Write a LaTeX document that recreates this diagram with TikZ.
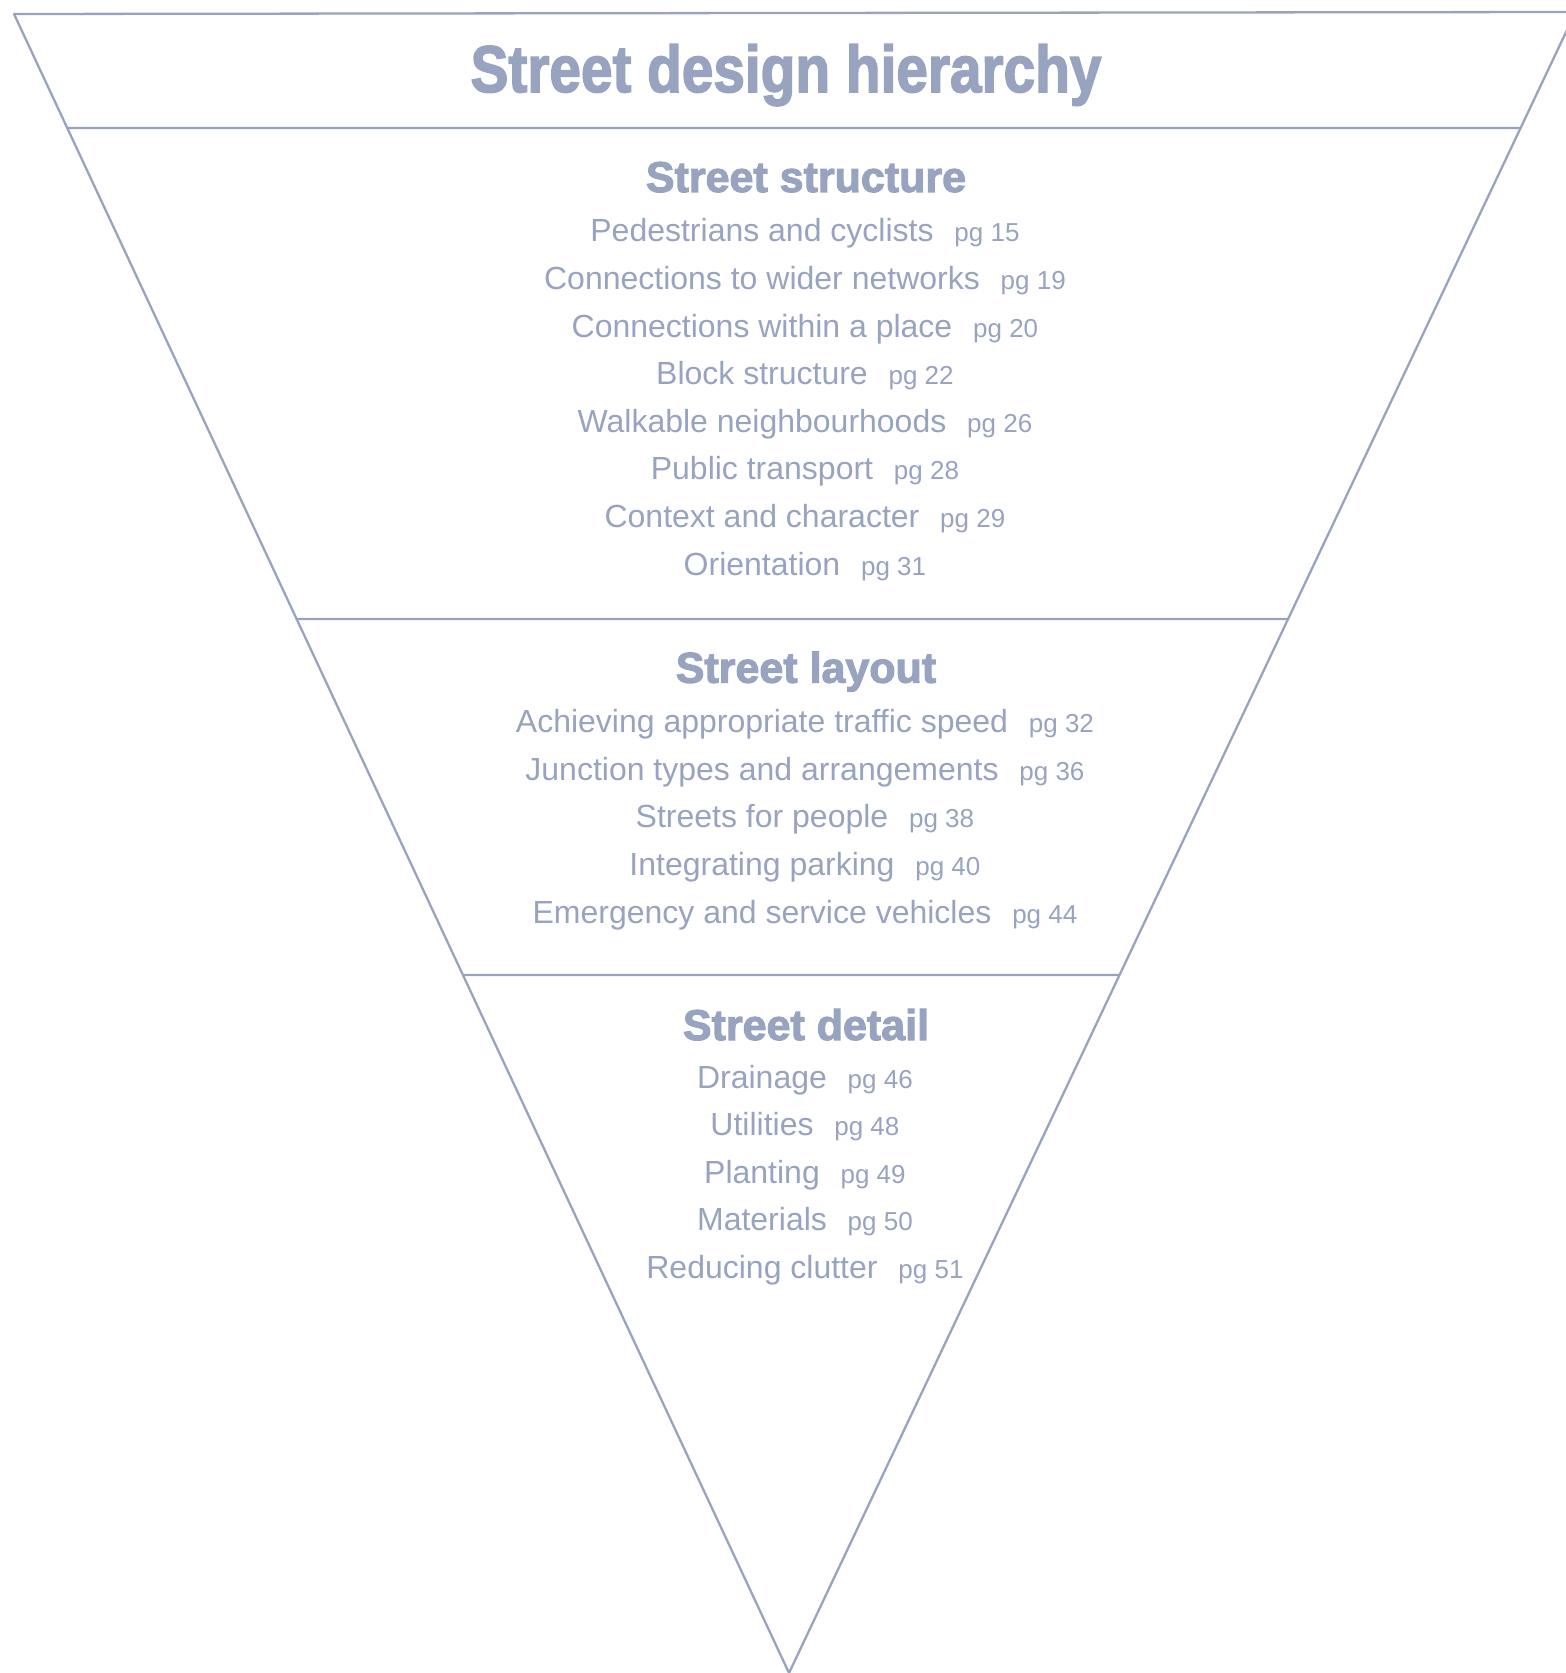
\documentclass[tikz,border=0pt]{standalone}
\usepackage{fontspec}
\setmainfont{Liberation Sans}
\newfontfamily\heavyfont[FakeBold=2.5]{Liberation Sans Bold}
\usetikzlibrary{positioning}
\definecolor{slate}{RGB}{151,163,191}

\begin{document}
\begin{tikzpicture}
  [x=0.5pt, y=-0.5pt,
   frame/.style={draw=slate, line width=1.15pt},
   every node/.style={text=slate, inner sep=0pt},
   title/.style={font=\heavyfont\fontsize{33}{40}\selectfont, anchor=base},
   heading/.style={font=\heavyfont\fontsize{21.5}{26}\selectfont, anchor=base},
   item/.style={font=\fontsize{16}{19}\selectfont, anchor=base},
   pgno/.style={font=\fontsize{13}{16}\selectfont}
  ]
  \useasboundingbox (0,0) rectangle (1566,1673);
  \clip (0,0) rectangle (1566,1673);

  % the funnel
  \coordinate (tl) at (14,14);
  \coordinate (tr) at (1575.5,12);
  \coordinate (apex) at (789,1673);
  \draw[frame, line join=round] (tl) -- (tr) -- (apex) -- cycle;
  \foreach \yy in {128,619,975}
    \draw[frame] (intersection of tl--apex and 0,\yy--1,\yy)
      -- (intersection of tr--apex and 0,\yy--1,\yy);

  \node[title] (title) at (786,92) {\scalebox{0.86}[1]{Street design hierarchy}};

  % street structure
  \node[heading] (structure) at (806,192) {Street structure};
  \foreach \txt/\pg [count=\i] in {Pedestrians and cyclists/15,
      Connections to wider networks/19, Connections within a place/20,
      Block structure/22, Walkable neighbourhoods/26, Public transport/28,
      Context and character/29, Orientation/31}
  {
    \node[item] (st\i) at (762,{242+47.6*(\i-1)}) {\txt};
    \node[pgno, base right=10pt of st\i] (stp\i) {pg \pg};
  }

  % street layout
  \node[heading] (layout) at (806,682.7) {Street layout};
  \foreach \txt/\pg [count=\i] in {Achieving appropriate traffic speed/32,
      Junction types and arrangements/36, Streets for people/38,
      Integrating parking/40, Emergency and service vehicles/44}
  {
    \node[item] (ly\i) at (762,{732.7+47.6*(\i-1)}) {\txt};
    \node[pgno, base right=10pt of ly\i] (lyp\i) {pg \pg};
  }

  % street detail
  \node[heading] (detail) at (806,1040) {Street detail};
  \foreach \txt/\pg [count=\i] in {Drainage/46, Utilities/48, Planting/49,
      Materials/50, Reducing clutter/51}
  {
    \node[item] (dt\i) at (762,{1088+47.6*(\i-1)}) {\txt};
    \node[pgno, base right=10pt of dt\i] (dtp\i) {pg \pg};
  }
\end{tikzpicture}
\end{document}
